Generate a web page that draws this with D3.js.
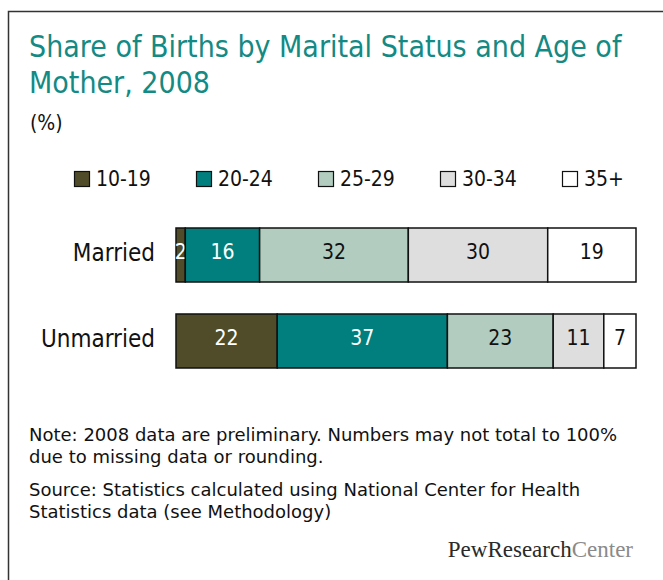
<!DOCTYPE html>
<html>
<head>
<meta charset="utf-8">
<script src="https://cdn.jsdelivr.net/npm/d3@7"></script>
<style>
  html, body { margin: 0; padding: 0; background: #fff; }
  svg { display: block; }
  text { font-family: "DejaVu Sans", sans-serif; }
  .cond { font-family: "DejaVu Sans Condensed", "DejaVu Sans", sans-serif; font-stretch: condensed; }
</style>
</head>
<body>
<svg id="chart" width="663" height="580"></svg>
<script>
// ---- data ----
const categories = ["Married", "Unmarried"];
const ageGroups = ["10-19", "20-24", "25-29", "30-34", "35+"];
const married = [2, 16, 32, 30, 19];
const unmarried = [22, 37, 23, 11, 7];
const titleLines = ["Share of Births by Marital Status and Age of", "Mother, 2008"];
const unitLabel = "(%)";
const noteLines = [
  "Note: 2008 data are preliminary. Numbers may not total to 100%",
  "due to missing data or rounding."
];
const sourceLines = [
  "Source: Statistics calculated using National Center for Health",
  "Statistics data (see Methodology)"
];

// ---- styling ----
const colors = ["#504c29", "#007f7e", "#b2cdbf", "#dedede", "#ffffff"];
const textColors = ["#ffffff", "#ffffff", "#111111", "#111111", "#111111"];
const teal = "#138a84";

const svg = d3.select("#chart");

// frame (left and top edges only visible)
svg.append("path")
  .attr("d", "M8.5,700V11.5H700")
  .attr("fill", "none")
  .attr("stroke", "#333")
  .attr("stroke-width", 1.5);

// title
svg.append("g").selectAll("text")
  .data(titleLines)
  .join("text")
  .attr("class", "cond")
  .attr("x", 29)
  .attr("y", (d, i) => 57 + i * 36)
  .attr("fill", teal)
  .attr("font-size", 30)
  .text(d => d);

svg.append("text")
  .attr("class", "cond")
  .attr("x", 30)
  .attr("y", 130)
  .attr("font-size", 21)
  .attr("fill", "#111")
  .text(unitLabel);

// table for stacking
const rows = categories.map((c, i) => {
  const vals = i === 0 ? married : unmarried;
  const o = { category: c };
  ageGroups.forEach((g, j) => o[g] = vals[j]);
  return o;
});

const stack = d3.stack().keys(ageGroups).offset(d3.stackOffsetExpand);
const series = stack(rows);

const x = d3.scaleLinear().domain([0, 1]).range([176, 636]);
const y = d3.scaleBand().domain(categories).range([228, 368]).paddingInner(0.372).paddingOuter(0);
const color = d3.scaleOrdinal().domain(ageGroups).range(colors);
const tcolor = d3.scaleOrdinal().domain(ageGroups).range(textColors);

// legend
const lx = d3.scalePoint().domain(ageGroups).range([74, 562]);
const legend = svg.append("g").selectAll("g")
  .data(ageGroups)
  .join("g")
  .attr("transform", d => `translate(${lx(d)},0)`);
legend.append("rect")
  .attr("x", 0.5).attr("y", 171.5)
  .attr("width", 15).attr("height", 15)
  .attr("fill", d => color(d))
  .attr("stroke", "#111")
  .attr("stroke-width", 1.2);
legend.append("text")
  .attr("class", "cond")
  .attr("x", 22)
  .attr("y", 186)
  .attr("font-size", 21)
  .attr("fill", "#111")
  .text(d => d);

// bars
const layers = svg.append("g").selectAll("g")
  .data(series)
  .join("g")
  .attr("fill", d => color(d.key));

layers.selectAll("rect")
  .data(d => d.map(s => ({ key: d.key, s })))
  .join("rect")
  .attr("x", d => x(d.s[0]))
  .attr("y", d => y(d.s.data.category))
  .attr("width", d => x(d.s[1]) - x(d.s[0]))
  .attr("height", y.bandwidth())
  .attr("stroke", "#111")
  .attr("stroke-width", 1.5);

layers.selectAll("text")
  .data(d => d.map(s => ({ key: d.key, s })))
  .join("text")
  .attr("class", "cond")
  .attr("x", d => (x(d.s[0]) + x(d.s[1])) / 2)
  .attr("y", d => y(d.s.data.category) + y.bandwidth() / 2 + 4)
  .attr("text-anchor", "middle")
  .attr("font-size", 21)
  .attr("fill", d => tcolor(d.key))
  .text(d => d.s.data[d.key]);

// category labels
svg.append("g").selectAll("text")
  .data(categories)
  .join("text")
  .attr("class", "cond")
  .attr("x", 155)
  .attr("y", d => y(d) + y.bandwidth() / 2 + 6)
  .attr("text-anchor", "end")
  .attr("font-size", 24)
  .attr("fill", "#111")
  .text(d => d);

// notes
svg.append("g").selectAll("text")
  .data(noteLines)
  .join("text")
  .attr("x", 29)
  .attr("y", (d, i) => 441 + i * 22)
  .attr("font-size", 18)
  .attr("fill", "#111")
  .text(d => d);

svg.append("g").selectAll("text")
  .data(sourceLines)
  .join("text")
  .attr("x", 29)
  .attr("y", (d, i) => 496 + i * 22)
  .attr("font-size", 18)
  .attr("fill", "#111")
  .text(d => d);

// logo
const logo = svg.append("text")
  .attr("x", 633)
  .attr("y", 557)
  .attr("text-anchor", "end")
  .attr("font-size", 23)
  .style("font-family", "'Liberation Serif', serif");
logo.append("tspan").attr("fill", "#2a2a2a").text("PewResearch");
logo.append("tspan").attr("fill", "#8a8a8a").text("Center");
</script>
</body>
</html>
